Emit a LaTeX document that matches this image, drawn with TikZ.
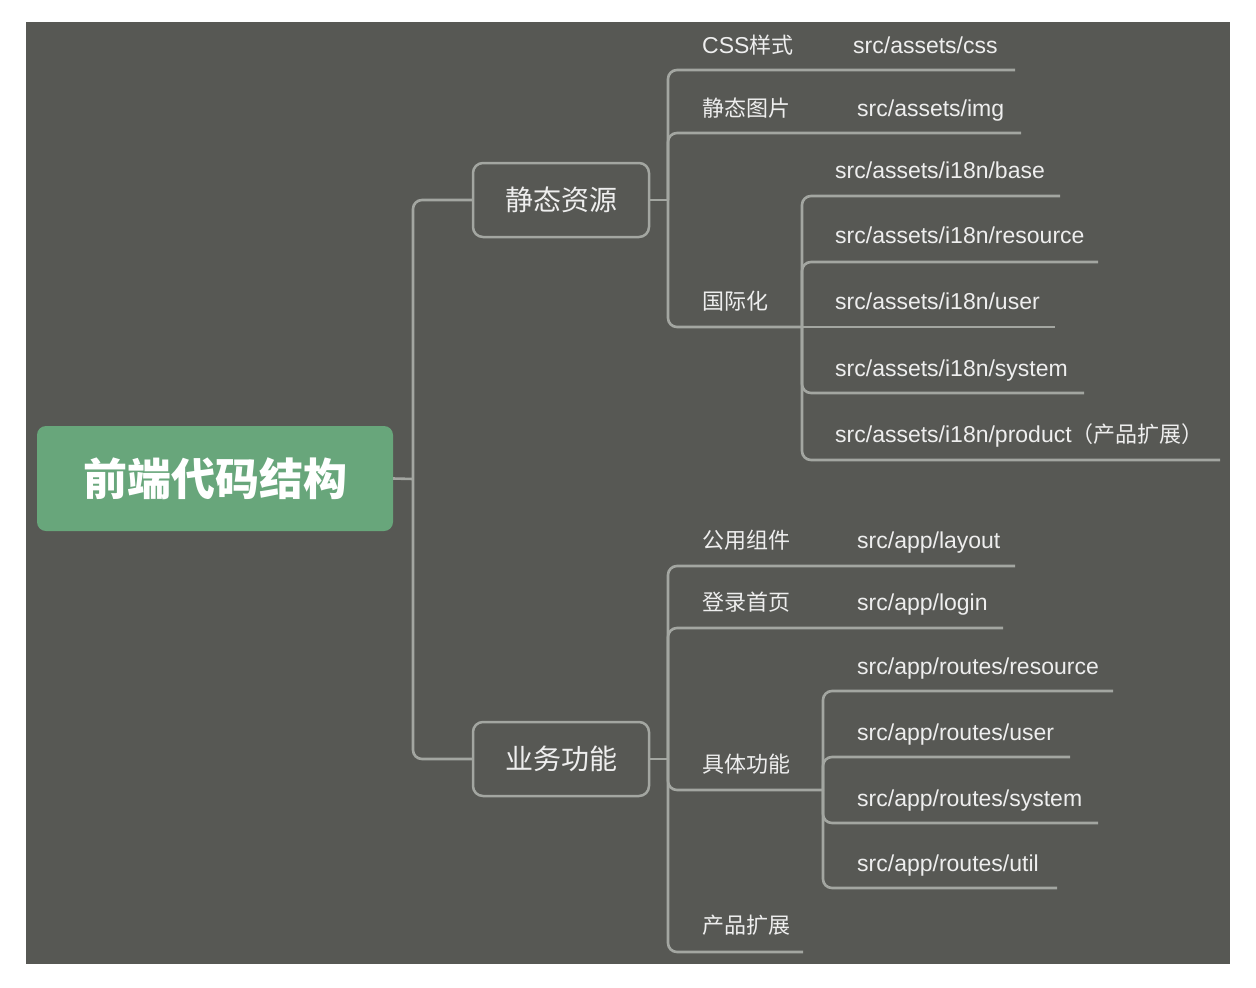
\documentclass[tikz,border=0pt]{standalone}
\usepackage{fontspec}
\setmainfont{Liberation Sans}
\newfontfamily\cjk{Noto Sans CJK SC}
\newcommand{\zh}[1]{{\cjk\fontsize{22}{26}\selectfont #1}}
\definecolor{bgcol}{HTML}{575854}
\definecolor{linecol}{HTML}{A3A6A1}
\definecolor{textcol}{HTML}{EEEEEE}
\definecolor{rootcol}{HTML}{68A67B}
\tikzset{
%Define style for the branches of the map
branch/.style={draw=linecol, line width=2.6pt, rounded corners=9pt},
%Define style for the boxes
root box/.style={fill=rootcol, rounded corners=9pt, minimum width=356pt,
minimum height=105pt, text=white, font=\cjk\bfseries\fontsize{44}{48}\selectfont},
topic box/.style={draw=linecol, line width=2.5pt, rounded corners=10pt,
minimum width=176pt, minimum height=74pt, text=textcol,
font=\cjk\fontsize{28}{32}\selectfont},
leaf/.style={anchor=base west, inner sep=0pt, text=textcol,
font=\fontsize{23}{27}\selectfont}, }

\begin{document}
\begin{tikzpicture}[x=1pt,y=-1pt]

\useasboundingbox (0,0) rectangle (1256,988);
\fill[bgcol] (26,22) rectangle (1230,964);

\node[root box] (root) at (215,478.5) {前端代码结构};
\node[topic box] (res) at (561,200) {静态资源};
\node[topic box] (biz) at (561,759) {业务功能};

\path coordinate (s1) at (413,479) coordinate (j1) at (668,200)
coordinate (j2) at (802,327) coordinate (j3) at (668,759) coordinate
(j4) at (823,790);

\draw[branch] (root.east) -- (s1);
\draw[branch] (res.west) -| (s1) |- (biz.west);

% first branch: static resources
\path coordinate (cssE) at (1015,70) coordinate (imgE) at (1021,133)
coordinate (baseE) at (1060,196) coordinate (resoE) at (1098,262)
coordinate (userE) at (1055,327) coordinate (sysE) at (1084,393)
coordinate (prodE) at (1220,460);

\draw[branch] (res.east) -- (j1);
\draw[branch] (j1) |- (cssE);
\draw[branch] (j1) |- (imgE);
\draw[branch] (j1) |- (j2);
\draw[branch] (j2) |- (baseE);
\draw[branch] (j2) |- (resoE);
\draw[branch] (j2) -- (userE);
\draw[branch] (j2) |- (sysE);
\draw[branch] (j2) |- (prodE);

\node[leaf] (cssT) at (702,53) {CSS\zh{样式}};
\node[leaf] (cssP) at (853,53) {src/assets/css};
\node[leaf] (imgT) at (702,116) {\zh{静态图片}};
\node[leaf] (imgP) at (857,116) {src/assets/img};
\node[leaf] (i18nT) at (702,309) {\zh{国际化}};
\node[leaf] (baseP) at (835,178) {src/assets/i18n/base};
\node[leaf] (resoP) at (835,243) {src/assets/i18n/resource};
\node[leaf] (userP) at (835,309) {src/assets/i18n/user};
\node[leaf] (sysP) at (835,376) {src/assets/i18n/system};
\node[leaf] (prodP) at (835,442) {src/assets/i18n/product\zh{（产品扩展）}};

% second branch: business functions
\path coordinate (layE) at (1015,566) coordinate (logE) at (1003,628)
coordinate (extE) at (803,952) coordinate (rresE) at (1113,691)
coordinate (ruserE) at (1070,757) coordinate (rsysE) at (1098,823)
coordinate (rutilE) at (1057,888);

\draw[branch] (biz.east) -- (j3);
\draw[branch] (j3) |- (layE);
\draw[branch] (j3) |- (logE);
\draw[branch] (j3) |- (j4);
\draw[branch] (j3) |- (extE);
\draw[branch] (j4) |- (rresE);
\draw[branch] (j4) |- (ruserE);
\draw[branch] (j4) |- (rsysE);
\draw[branch] (j4) |- (rutilE);

\node[leaf] (layT) at (702,548) {\zh{公用组件}};
\node[leaf] (layP) at (857,548) {src/app/layout};
\node[leaf] (logT) at (702,610) {\zh{登录首页}};
\node[leaf] (logP) at (857,610) {src/app/login};
\node[leaf] (funT) at (702,772) {\zh{具体功能}};
\node[leaf] (extT) at (702,933) {\zh{产品扩展}};
\node[leaf] (rresP) at (857,674) {src/app/routes/resource};
\node[leaf] (ruserP) at (857,740) {src/app/routes/user};
\node[leaf] (rsysP) at (857,806) {src/app/routes/system};
\node[leaf] (rutilP) at (857,871) {src/app/routes/util};

\end{tikzpicture}
\end{document}
